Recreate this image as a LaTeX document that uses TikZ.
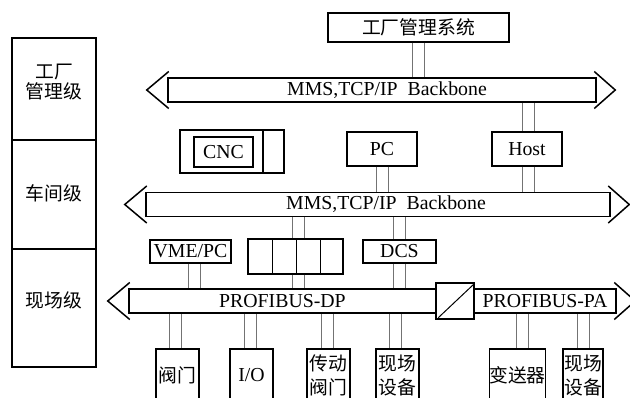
\documentclass[tikz,border=0pt]{standalone}
\usepackage{fontspec}
\setmainfont{Liberation Serif}
\newfontfamily\cjk{Noto Sans CJK SC}
\usetikzlibrary{calc}
\newcommand\linkpair[3]{%
  \path ($(#1)+(#3-6,0)$) coordinate (tmpa);
  \path ($(#1)+(#3+6,0)$) coordinate (tmpb);
  \draw[conn] (tmpa) -- (tmpa |- #2);
  \draw[conn] (tmpb) -- (tmpb |- #2);}
\newcommand\chevleft[1]{\draw[chev] ($(#1.west)+(1.5,-18.5)$) -- ($(#1.west)+(-20.5,0)$) -- ($(#1.west)+(1.5,18.5)$);}
\newcommand\chevright[1]{\draw[chev] ($(#1.east)+(-2.5,-18.5)$) -- ($(#1.east)+(18.5,0)$) -- ($(#1.east)+(-2.5,18.5)$);}
\begin{document}
\begin{tikzpicture}[x=1pt,y=-1pt,
  box/.style={draw, line width=1.5pt, inner sep=0pt, fill=white},
  bus/.style={draw, line width=1.5pt, inner sep=0pt, fill=white},
  chev/.style={draw, line width=1.5pt},
  conn/.style={draw=black!55, line width=0.9pt},
  lat/.style={font=\fontsize{19.8}{21}\selectfont},
  zh/.style={font=\cjk\fontsize{18.8}{24}\selectfont, align=center},
  zhl/.style={font=\cjk\fontsize{18.8}{20}\selectfont, align=center},
]
\useasboundingbox (0,0) rectangle (630,398);
\clip (0,0) rectangle (630,398);

% level column
\node[box, minimum width=84pt, minimum height=102pt] (lv1) at (54,89) {};
\node[box, minimum width=84pt, minimum height=109pt] (lv2) at (54,194.5) {};
\node[box, minimum width=84pt, minimum height=118pt] (lv3) at (54,308) {};
\node[zhl] (t1) at (54,82) {工厂\\管理级};
\node[zhl] (t2) at (54,193) {车间级};
\node[zhl] (t3) at (54,300) {现场级};

% top system
\node[box, zh, minimum width=181pt, minimum height=29pt] (sys) at (418.5,27.5) {工厂管理系统};

% backbone 1
\node[bus, lat, minimum width=428pt, minimum height=24pt] (bb1) at (382,90) {\hspace{10pt}MMS,TCP/IP\ \ Backbone};
\chevleft{bb1}
\chevright{bb1}

% CNC
\node[box, minimum width=104pt, minimum height=43pt] (cncbox) at (232,151.5) {};
\draw[line width=1.5pt] ($(cncbox.north east)+(-22,0)$) -- ($(cncbox.south east)+(-22,0)$);
\node[box, lat, minimum width=59pt, minimum height=30pt] (cnc) at (223.5,152) {CNC};

% PC, Host
\node[box, lat, minimum width=70pt, minimum height=34pt] (pc) at (382,149) {PC};
\node[box, lat, minimum width=70pt, minimum height=34pt] (host) at (527,149) {Host};

% backbone 2
\node[bus, lat, minimum width=464pt, minimum height=24pt] (bb2) at (378,204.5) {\hspace{16pt}MMS,TCP/IP\ \ Backbone};
\chevleft{bb2}
\chevright{bb2}

% cell level devices
\node[box, lat, minimum width=81pt, minimum height=23pt] (vme) at (190.5,251.5) {VME/PC};
\node[box, minimum width=95pt, minimum height=35pt] (cells) at (295.5,256.5) {};
\foreach \d in {25,49,73}
  \draw[line width=1.5pt] ($(cells.north west)+(\d,0)$) -- ($(cells.south west)+(\d,0)$);
\node[box, lat, minimum width=73pt, minimum height=23pt] (dcs) at (399.5,251.5) {DCS};

% PROFIBUS buses
\node[bus, lat, minimum width=307pt, minimum height=24pt] (dp) at (282.5,301) {PROFIBUS-DP};
\chevleft{dp}
\node[bus, lat, minimum width=142pt, minimum height=24pt] (pa) at (545,301) {PROFIBUS-PA};
\chevright{pa}
\node[box, minimum width=38pt, minimum height=36pt] (conv) at (455,301) {};
\draw[line width=1pt] ($(conv.south west)+(3,-2)$) -- ($(conv.north east)+(-1,2)$);

% field devices
\node[box, zh, minimum width=43pt, minimum height=52pt] (d1) at (177.5,375) {阀门};
\node[box, lat, minimum width=43pt, minimum height=52pt] (d2) at (251.5,375) {I/O};
\node[box, zh, minimum width=43pt, minimum height=52pt] (d3) at (328.5,375) {传动\\阀门};
\node[box, zh, minimum width=43pt, minimum height=52pt] (d4) at (397.5,375) {现场\\设备};
\node[box, zh, minimum width=53pt, minimum height=52pt] (d5) at (517.5,375) {变送器};
\node[box, zh, minimum width=40pt, minimum height=52pt] (d6) at (583,375) {现场\\设备};

% connectors
\linkpair{sys.south}{bb1.north}{0}
\linkpair{host.north}{bb1.south}{1}
\linkpair{pc.south}{bb2.north}{0}
\linkpair{host.south}{bb2.north}{1}
\linkpair{vme.south}{dp.north}{3.5}
\linkpair{cells.north}{bb2.south}{2.5}
\linkpair{cells.south}{dp.north}{2.5}
\linkpair{dcs.north}{bb2.south}{0}
\linkpair{dcs.south}{dp.north}{0}
\linkpair{d1.north}{dp.south}{-2}
\linkpair{d2.north}{dp.south}{-1}
\linkpair{d3.north}{dp.south}{-1.5}
\linkpair{d4.north}{dp.south}{-2}
\linkpair{d5.north}{pa.south}{4.5}
\linkpair{d6.north}{pa.south}{0}
\end{tikzpicture}
\end{document}
